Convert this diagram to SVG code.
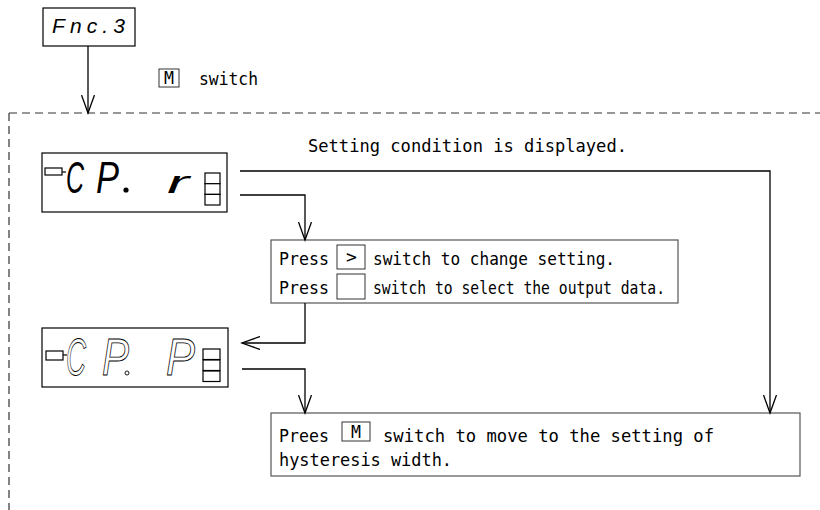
<svg xmlns="http://www.w3.org/2000/svg" width="820" height="510" viewBox="0 0 820 510">
<style>
.t{font-family:"DejaVu Sans Mono","Liberation Mono",monospace;font-size:18px;fill:#000}
.box{fill:#fff;stroke:#555;stroke-width:1.2}
.key{fill:none;stroke:#333;stroke-width:1}
.ln{fill:none;stroke:#000;stroke-width:1.3}
.dash{fill:none;stroke:#333;stroke-width:1.2;stroke-dasharray:8 5}
.seg{font-family:"Liberation Sans","DejaVu Sans",sans-serif;font-style:italic;fill:#000}
.oseg{font-family:"Liberation Sans","DejaVu Sans",sans-serif;font-style:italic;fill:none;stroke:#000;stroke-width:0.9}
.ind{fill:#fff;stroke:#000;stroke-width:1.2}
</style>
<defs>
<marker id="ah" markerWidth="20" markerHeight="14" refX="18" refY="7" orient="auto" markerUnits="userSpaceOnUse">
<path d="M0,0.5 L18,7 L0,13.5" fill="none" stroke="#000" stroke-width="1.3"/>
</marker>
</defs>
<path class="dash" d="M9,113 H820 M9,113 V510"/>
<g id="fnc3">
<rect x="43" y="8" width="92" height="38" fill="#fff" stroke="#000" stroke-width="1.2"/>
<text class="seg" x="52" y="33" font-size="21" textLength="73" lengthAdjust="spacing">Fnc.3</text>
</g>
<g id="mswitch">
<rect class="key" x="159" y="69" width="20" height="18"/>
<text class="t" x="164" y="84" font-size="16" textLength="10" lengthAdjust="spacingAndGlyphs">M</text>
<text class="t" x="199" y="85" textLength="59" lengthAdjust="spacingAndGlyphs">switch</text>
</g>
<g id="note1">
<text class="t" x="308" y="152" textLength="319" lengthAdjust="spacingAndGlyphs">Setting condition is displayed.</text>
</g>
<g id="disp1">
<rect x="42" y="153" width="185" height="59" fill="#fff" stroke="#000" stroke-width="1.2"/>
<rect class="ind" x="45" y="168" width="17" height="7"/>
<line x1="62" y1="172" x2="66" y2="172" stroke="#000" stroke-width="1.2"/>
<text class="seg" x="66" y="193" font-size="44" textLength="18" lengthAdjust="spacingAndGlyphs">C</text>
<text class="seg" x="96" y="193" font-size="44" textLength="23" lengthAdjust="spacingAndGlyphs">P</text>
<circle cx="126" cy="190" r="2.6" fill="#000"/>
<text class="seg" x="167" y="193" font-size="32" textLength="22" lengthAdjust="spacingAndGlyphs">r</text>
<rect class="ind" x="205" y="173" width="15" height="10.7"/>
<rect class="ind" x="205" y="183.7" width="15" height="10.7"/>
<rect class="ind" x="205" y="194.4" width="15" height="10.6"/>
</g>
<g id="box1">
<rect class="box" x="271" y="240" width="407" height="63"/>
<text class="t" x="279" y="265" textLength="50" lengthAdjust="spacingAndGlyphs">Press</text>
<rect class="key" x="337" y="245" width="28" height="24"/>
<text class="t" x="346" y="263">&gt;</text>
<text class="t" x="373" y="265" textLength="242" lengthAdjust="spacingAndGlyphs">switch to change setting.</text>
<text class="t" x="279" y="294" textLength="50" lengthAdjust="spacingAndGlyphs">Press</text>
<rect class="key" x="337" y="274" width="28" height="25"/>
<text class="t" x="373" y="294" textLength="292" lengthAdjust="spacingAndGlyphs">switch to select the output data.</text>
</g>
<g id="disp2">
<rect x="42" y="328" width="186" height="59" fill="#fff" stroke="#000" stroke-width="1.2"/>
<rect class="ind" x="46" y="351" width="17" height="9"/>
<line x1="63" y1="355" x2="67" y2="355" stroke="#000" stroke-width="1.2"/>
<text class="oseg" x="66" y="375" font-size="52" textLength="20" lengthAdjust="spacingAndGlyphs">C</text>
<text class="oseg" x="102" y="375" font-size="52" textLength="27" lengthAdjust="spacingAndGlyphs">P</text>
<circle cx="127" cy="373" r="2" fill="none" stroke="#000" stroke-width="0.9"/>
<text class="oseg" x="166" y="375" font-size="52" textLength="29" lengthAdjust="spacingAndGlyphs">P</text>
<rect class="ind" x="203" y="349" width="17" height="10.5" stroke-width="2"/>
<rect class="ind" x="203" y="360" width="17" height="10.5" stroke-width="2"/>
<rect class="ind" x="203" y="371" width="17" height="10.5" stroke-width="2"/>
</g>
<g id="box2">
<rect class="box" x="271" y="413" width="529" height="63"/>
<text class="t" x="279" y="442" textLength="50" lengthAdjust="spacingAndGlyphs">Prees</text>
<rect class="key" x="342" y="422" width="28" height="19"/>
<text class="t" x="351" y="438" textLength="10" lengthAdjust="spacingAndGlyphs">M</text>
<text class="t" x="383" y="442" textLength="331" lengthAdjust="spacingAndGlyphs">switch to move to the setting of</text>
<text class="t" x="279" y="466" textLength="173" lengthAdjust="spacingAndGlyphs">hysteresis width.</text>
</g>
<g id="connectors">
<path class="ln" d="M88,46 V113" marker-end="url(#ah)"/>
<path class="ln" d="M240,171 H770 V413" marker-end="url(#ah)"/>
<path class="ln" d="M240,195 H305 V240" marker-end="url(#ah)"/>
<path class="ln" d="M305,303 V343 H242" marker-end="url(#ah)"/>
<path class="ln" d="M242,369 H305 V413" marker-end="url(#ah)"/>
</g>
</svg>
